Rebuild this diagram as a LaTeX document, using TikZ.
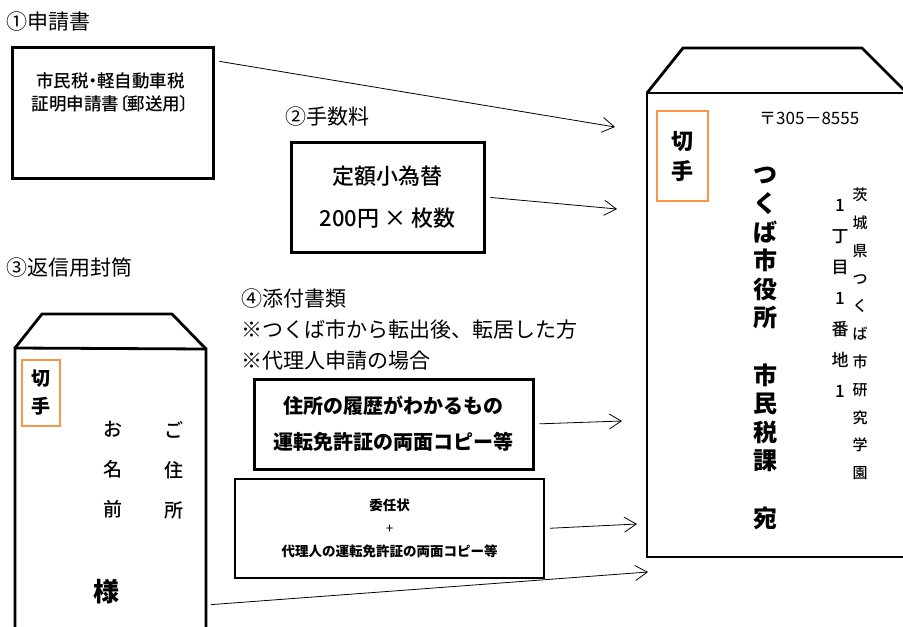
\documentclass[tikz,border=0pt]{standalone}
\usepackage{fontspec}
\setmainfont{Noto Sans CJK JP}
\IfFontExistsTF{Noto Sans CJK JP Medium}
  {\newfontfamily\medfont{Noto Sans CJK JP Medium}}
  {\newcommand\medfont{\bfseries}}
\usepackage{tikz}
\usetikzlibrary{positioning,arrows.meta}
\definecolor{stamporange}{RGB}{247,150,70}

\begin{document}
\begin{tikzpicture}[x=1pt,y=1pt,
  head/.style={font=\fontsize{21}{31}\selectfont,anchor=west,inner sep=0pt,align=left},
  docbox/.style={draw,line width=3pt,inner sep=0pt,align=center},
  stamp/.style={draw=stamporange,line width=2.8pt,inner sep=0pt,align=center},
  vtext/.style={inner sep=0pt,align=center},
  envelope/.style={line width=2.8pt,line join=miter}
]
\useasboundingbox (0,0) rectangle (903,-627);
\clip (0,0) rectangle (903,-627);

% the headings
\node[head] (formhead) at (6,-22) {①申請書};
\node[head] (feehead) at (285,-117) {②手数料};
\node[head] (returnhead) at (6,-268) {③返信用封筒};
\node[head] (attachhead) at (241,-329) {④添付書類\\※つくば市から転出後、転居した方\\※代理人申請の場合};

% the documents
\node[docbox,minimum width=201pt,minimum height=131pt] (form) at (112.5,-112.5) {};
\node[vtext,font=\fontsize{17.5}{23}\selectfont\medfont\addfontfeature{RawFeature=+palt}] (formtext) at (110.5,-92) {市民税・軽自動車税\\証明申請書〔郵送用〕};
\node[docbox,minimum width=193pt,minimum height=110pt,font=\fontsize{22}{42}\selectfont\medfont] (price) at (387.5,-197) {定額小為替\\200円 × 枚数};
\node[docbox,minimum width=279pt,minimum height=90pt,font=\fontsize{20}{36}\selectfont\bfseries] (history) at (393.5,-424) {住所の履歴がわかるもの\\運転免許証の両面コピー等};
\node[docbox,line width=2pt,minimum width=309pt,minimum height=99pt,font=\fontsize{13.5}{23}\selectfont\bfseries] (proxy) at (389.5,-528.5) {委任状\\{\mdseries +}\\代理人の運転免許証の両面コピー等};

% the return envelope
\draw[envelope] (15,-640) -- (15,-348) -- (206,-349) -- (206,-640);
\draw[envelope] (15,-348) -- (42,-314) -- (172,-314) -- (206,-349);
\node[stamp,minimum width=38pt,minimum height=66pt,font=\fontsize{19}{28}\selectfont\bfseries] (backstamp) at (41,-393) {切\\手};
\node[vtext,font=\fontsize{19}{40}\selectfont\medfont] (address) at (174,-470) {ご\\住\\所};
\node[vtext,font=\fontsize{19}{40}\selectfont\medfont] (name) at (113,-470) {お\\名\\前};
\node[vtext,font=\fontsize{26}{30}\selectfont\bfseries] (sama) at (106,-592) {様};
\coordinate (returnout) at (206,-605);

% the envelope to the city office
\draw[envelope] (910,-93) -- (647,-93) -- (647,-557) -- (910,-557);
\draw[envelope] (647,-93) -- (683,-48) -- (862,-48) -- (907,-93);
\node[stamp,minimum width=51pt,minimum height=90pt,font=\fontsize{22}{30}\selectfont\bfseries] (stamp) at (682.5,-156) {切\\手};
\node[inner sep=0pt,anchor=west,font=\fontsize{17}{20}\selectfont] (zip) at (759,-118) {〒305－8555};
\node[vtext,font=\fontsize{24}{28.6}\selectfont\bfseries] (office) at (765,-348.5) {つ\\く\\ば\\市\\役\\所\\[28.6pt]市\\民\\税\\課\\[28.6pt]宛};
\node[vtext,font=\fontsize{17}{31}\selectfont\medfont] (street) at (840,-298) {1\\丁\\目\\1\\番\\地\\1};
\node[vtext,font=\fontsize{15}{27.8}\selectfont\medfont] (town) at (860,-334) {茨\\城\\県\\つ\\く\\ば\\市\\研\\究\\学\\園};

\coordinate (formin) at (615,-127);
\coordinate (pricein) at (617,-209);
\coordinate (historyin) at (622,-421);
\coordinate (proxyin) at (637,-524);
\coordinate (returnin) at (648,-572);

% the arrows
\begin{scope}[->,>={Straight Barb[length=12pt,width=15pt]},line width=0.8pt,shorten <=5pt]
  \draw (form.27) -- (formin);
  \draw (price.east) -- (pricein);
  \draw (history.east) -- (historyin);
  \draw (proxy.east) -- (proxyin);
  \draw (returnout) -- (returnin);
\end{scope}
\end{tikzpicture}
\end{document}
